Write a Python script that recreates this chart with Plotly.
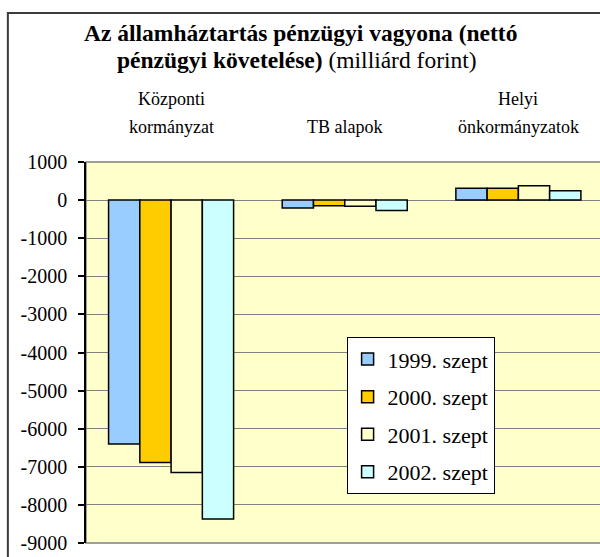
import plotly.graph_objects as go

# categories (Excel wraps the long ones onto two lines)
categories = ["Központi<br>kormányzat", "TB alapok", "Helyi<br>önkormányzatok"]
series_names = ["1999. szept", "2000. szept", "2001. szept", "2002. szept"]
v1999 = [-6400, -210, 310]
v2000 = [-6890, -150, 310]
v2001 = [-7150, -160, 375]
v2002 = [-8370, -270, 245]
colors = ["#99CCFF", "#FFCC00", "#FFFFCC", "#CCFFFF"]
y_ticks = [1000, 0, -1000, -2000, -3000, -4000, -5000, -6000, -7000, -8000, -9000]

FONT = "Times New Roman, Liberation Serif, serif"

fig = go.Figure()
for name, vals, col in zip(series_names, [v1999, v2000, v2001, v2002], colors):
    fig.add_trace(go.Bar(x=categories, y=vals, name=name, legendgroup=name,
                         marker=dict(color=col, line=dict(color="black", width=1.5))))

# plot area is 86..600 px wide, 162..543 px high
fig.update_layout(
    width=600, height=557,
    margin=dict(l=86, r=0, t=162, b=14),
    paper_bgcolor="white", plot_bgcolor="#FFFFCC",
    barmode="group", bargap=0.28, bargroupgap=0,
    font=dict(family=FONT, color="black"),
    showlegend=True,
    legend=dict(x=0.507, y=0.540, xanchor="left", yanchor="top",
                bgcolor="white", bordercolor="black", borderwidth=1,
                font=dict(size=22, family=FONT), tracegroupgap=6,
                traceorder="grouped"),
)
fig.update_xaxes(range=[-0.49, 2.47], showticklabels=False, showgrid=False,
                 zeroline=False, showline=False, ticks="")
fig.update_yaxes(range=[-9000, 1000], tickvals=y_ticks, ticktext=[str(v) for v in y_ticks],
                 showgrid=True, gridcolor="#808080",
                 gridwidth=1, zeroline=False, showline=True, linecolor="black", linewidth=1.5,
                 ticks="outside", ticklen=6, tickcolor="black", tickwidth=1.5,
                 ticklabelstandoff=7, tickfont=dict(size=20, family=FONT))

# plot area border and outer chart border
fig.add_shape(type="rect", xref="paper", yref="paper", x0=0, x1=1.05, y0=0, y1=1,
              line=dict(color="#808080", width=1.5), layer="below")
fig.add_shape(type="rect", xref="paper", yref="paper", x0=-0.152, x1=1.05, y0=-0.07, y1=1.391,
              line=dict(color="#3c3c3c", width=2))

# title, two lines
fig.add_annotation(text="<b>Az államháztartás pénzügyi vagyona (nettó</b>",
                   xref="paper", yref="paper", x=(300 - 86) / 514, y=(543 - 33) / 381,
                   xanchor="center", yanchor="middle", showarrow=False,
                   font=dict(size=23.5, family=FONT))
fig.add_annotation(text="<b>pénzügyi követelése)</b> (milliárd forint)",
                   xref="paper", yref="paper", x=(297 - 86) / 514, y=(543 - 60) / 381,
                   xanchor="center", yanchor="middle", showarrow=False,
                   font=dict(size=23.5, family=FONT))

# category labels along the top
line_y = [127, 99]  # centre rows from the bottom up
for cat in categories:
    parts = cat.split("<br>")
    for i, part in enumerate(reversed(parts)):
        fig.add_annotation(text=part, xref="x", yref="paper", x=cat,
                           y=(543 - line_y[i]) / 381,
                           xanchor="center", yanchor="middle", showarrow=False,
                           font=dict(size=18, family=FONT))

# page body has an 8px default margin; drop it so the chart sits at 0,0
fig.write_html("out.html", config={"displayModeBar": False},
               post_script="document.body.style.margin='0';")
